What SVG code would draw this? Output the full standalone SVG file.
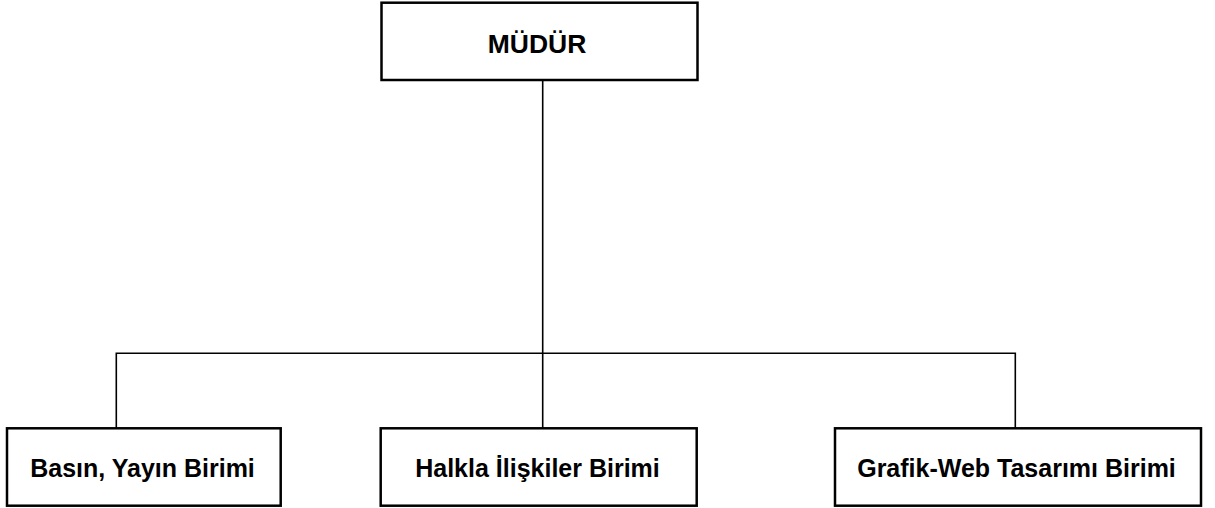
<svg xmlns="http://www.w3.org/2000/svg" width="1215" height="508" viewBox="0 0 1215 508">
<style>
.box{fill:#fff;stroke:#000;stroke-width:2.5}
.lbl{font-family:"Liberation Sans",Arial,sans-serif;font-weight:bold;font-size:25px;fill:#000;text-anchor:middle}
.con{fill:none;stroke:#000;stroke-width:1.6}
</style>
<rect width="1215" height="508" fill="#fff"/>
<g id="connectors">
<path class="con" d="M542.7 80 V428"/>
<path class="con" d="M116.3 428 V353.3 H1015.3 V428"/>
</g>
<g id="mudur">
<rect class="box" x="381.5" y="2.7" width="316" height="77.3"/>
<text class="lbl" x="537" y="52.7" style="font-size:26.5px">MÜDÜR</text>
</g>
<g id="basin">
<rect class="box" x="7" y="428.3" width="273.7" height="77.4"/>
<text class="lbl" x="142.5" y="476.7">Basın, Yayın Birimi</text>
</g>
<g id="halkla">
<rect class="box" x="380.7" y="428.3" width="316" height="77.4"/>
<text class="lbl" x="537.5" y="476.7">Halkla İlişkiler Birimi</text>
</g>
<g id="grafik">
<rect class="box" x="835" y="428.3" width="366" height="77.4"/>
<text class="lbl" x="1016.5" y="476.7">Grafik-Web Tasarımı Birimi</text>
</g>
</svg>
